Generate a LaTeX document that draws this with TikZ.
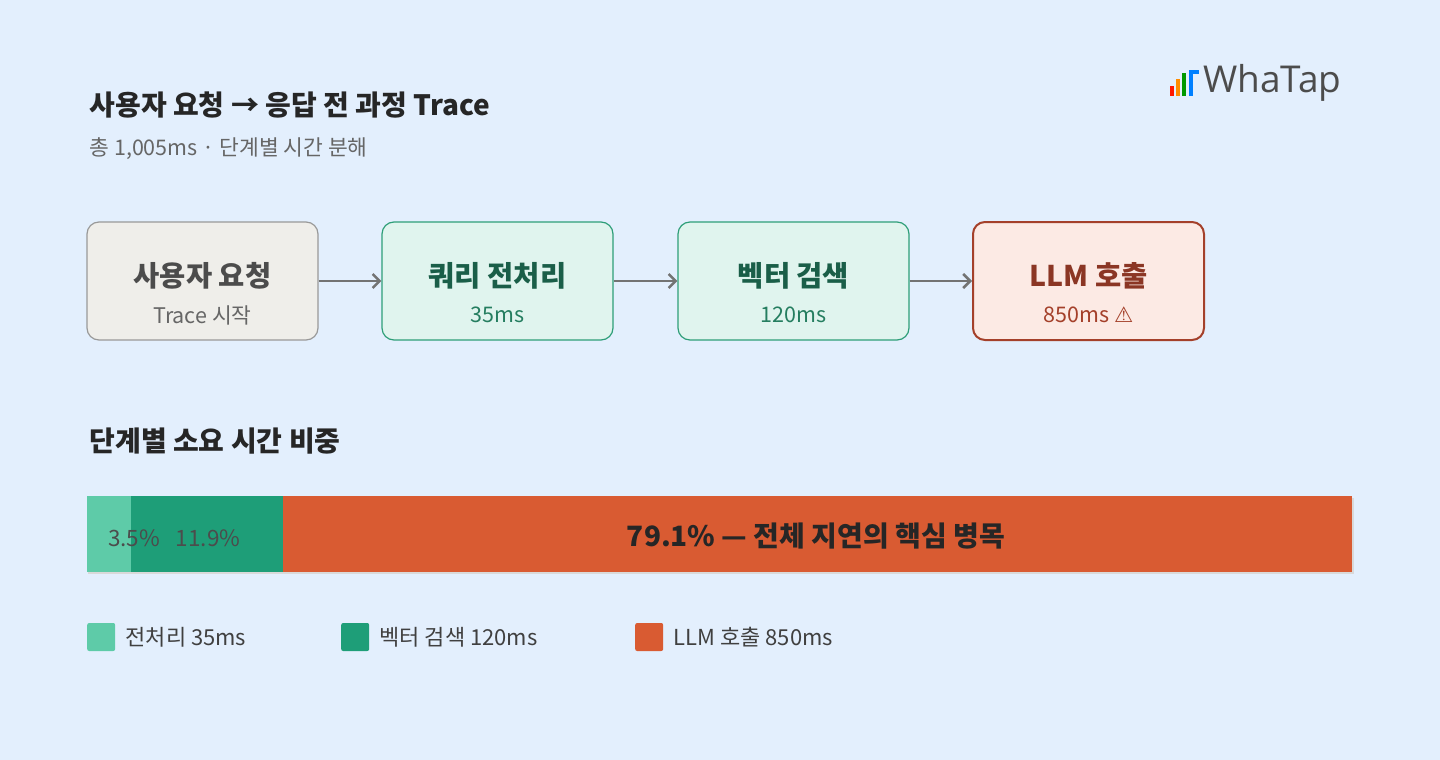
\documentclass[tikz,border=0pt]{standalone}
\usepackage{fontspec}
\setmainfont{Noto Sans CJK KR}
\newfontfamily\sym{DejaVu Sans}
\newfontfamily\logofont{Open Sans}
\usetikzlibrary{arrows.meta}
\begin{document}
\begin{tikzpicture}[x=1pt,y=-1pt,
 box/.style={draw,rounded corners=12pt,minimum width=231pt,minimum height=118pt,line width=1.2pt,align=center,inner sep=0pt},
 arr/.style={draw=black!55,line width=2.5pt,-{Straight Barb[length=7pt,width=14pt]}},
 lg/.style={anchor=west,font=\fontsize{22}{26}\selectfont,text=black!75},
 sq/.style={minimum size=28pt,inner sep=0pt,rounded corners=2pt}]
\definecolor{bg}{HTML}{E3EFFD}
\fill[bg] (0,0) rectangle (1440,760);
\node[anchor=west,font=\fontsize{28}{32}\selectfont\bfseries,text=black!85] (t) at (86,105) {사용자 요청 → 응답 전 과정 Trace};
\node[anchor=west,font=\fontsize{21.5}{26}\selectfont,text=black!60] (st) at (86,149) {총 1,005ms · 단계별 시간 분해};
\definecolor{gf0}{HTML}{EFEEEA}
\node[box,draw=black!40,fill=gf0] (a) at (202.5,281) {};
\node[font=\fontsize{28.5}{32}\selectfont\bfseries,text=black!70] (a1) at (202.5,276) {사용자 요청};
\node[font=\fontsize{21.5}{26}\selectfont,text=black!60] (a2) at (202.5,315) {Trace 시작};
\definecolor{gb}{HTML}{2E9E78}\definecolor{gf}{HTML}{E0F4EE}\definecolor{gt}{HTML}{1A5E48}
\node[box,draw=gb,fill=gf] (b) at (497.5,281) {};
\node[font=\fontsize{28.5}{32}\selectfont\bfseries,text=gt] (b1) at (497.5,276) {쿼리 전처리};
\node[font=\fontsize{21.5}{26}\selectfont,text=gb!80!black] (b2) at (497.5,315) {35ms};
\node[box,draw=gb,fill=gf] (c) at (793.5,281) {};
\node[font=\fontsize{28.5}{32}\selectfont\bfseries,text=gt] (c1) at (793.5,276) {벡터 검색};
\node[font=\fontsize{21.5}{26}\selectfont,text=gb!80!black] (c2) at (793.5,315) {120ms};
\definecolor{rb}{HTML}{A4402A}\definecolor{rf}{HTML}{FCEAE4}
\node[box,draw=rb,fill=rf,line width=2pt] (d) at (1088.5,281) {};
\node[font=\fontsize{28.5}{32}\selectfont\bfseries,text=rb!85!black] (d1) at (1088.5,276) {LLM 호출};
\node[font=\fontsize{21.5}{26}\selectfont,text=rb] (d2) at (1088.5,315) {850ms {\sym ⚠}};
\draw[arr] (a) -- (b);
\draw[arr] (b) -- (c);
\draw[arr] (c) -- (d);
\node[anchor=west,font=\fontsize{28}{32}\selectfont\bfseries,text=black!85] (s) at (86,441) {단계별 소요 시간 비중};
\definecolor{c1}{HTML}{5ECBA8}\definecolor{c2}{HTML}{1E9E78}\definecolor{c3}{HTML}{D95B32}
\fill[black!15] (88,498) rectangle (1354,574);
\fill[c1] (87,496) rectangle (131,572);
\fill[c2] (131,496) rectangle (283,572);
\fill[c3] (283,496) rectangle (1352,572);
\node[font=\fontsize{22.5}{26}\selectfont,text=black!70] (p1) at (134,538) {3.5\%};
\node[font=\fontsize{22.5}{26}\selectfont,text=black!70] (p2) at (208,538) {11.9\%};
\node[font=\fontsize{28}{32}\selectfont\bfseries,text=black!85] (p3) at (816,536) {79.1\% — 전체 지연의 핵심 병목};
\node[sq,fill=c1,anchor=west] (l1) at (87,637) {};
\node[lg] at (122,637) {전처리 35ms};
\node[sq,fill=c2,anchor=west] (l2) at (341,637) {};
\node[lg] at (376,637) {벡터 검색 120ms};
\node[sq,fill=c3,anchor=west] (l3) at (635,637) {};
\node[lg] at (670,637) {LLM 호출 850ms};
\fill[red!80!orange] (1170,86) rectangle (1174,96);
\fill[orange!90!yellow] (1176,79) rectangle (1180,96);
\fill[green!60!black] (1182,73) rectangle (1186,96);
\fill[blue!50!cyan] (1189,70) rectangle (1193,96);
\fill[blue!50!cyan] (1189,70) rectangle (1199,74);
\node[anchor=west,font=\fontsize{37}{40}\selectfont\logofont,text=black!70,inner sep=0pt] (logo) at (1203,83) {WhaTap};
\end{tikzpicture}
\end{document}
